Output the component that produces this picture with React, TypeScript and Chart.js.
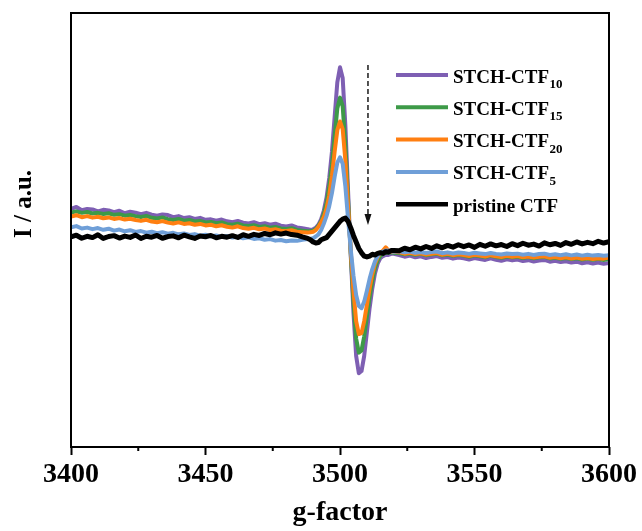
import { useEffect, useRef } from "react";
import { Chart, registerables } from "chart.js";

Chart.register(...registerables);

// Magnetic field sweep (G) shared by every spectrum
const fieldG = [
  3400, 3402, 3404, 3406, 3408, 3410, 3412, 3414, 3416, 3418,
  3420, 3422, 3424, 3426, 3428, 3430, 3432, 3434, 3436, 3438,
  3440, 3442, 3444, 3446, 3448, 3450, 3452, 3454, 3456, 3458,
  3460, 3462, 3464, 3466, 3468, 3470, 3472, 3474, 3476, 3478,
  3480, 3482, 3484, 3486, 3488,
  3489, 3490, 3491, 3492, 3493, 3494, 3495, 3496, 3497, 3498,
  3499, 3500, 3501, 3502, 3503, 3504, 3505, 3506, 3507, 3508,
  3509, 3510, 3511, 3512, 3513, 3514, 3515, 3516, 3517, 3518,
  3519, 3520,
  3522, 3524, 3526, 3528, 3530, 3532, 3534, 3536, 3538, 3540,
  3542, 3544, 3546, 3548, 3550, 3552, 3554, 3556, 3558, 3560,
  3562, 3564, 3566, 3568, 3570, 3572, 3574, 3576, 3578, 3580,
  3582, 3584, 3586, 3588, 3590, 3592, 3594, 3596, 3598, 3600,
];

// EPR intensities (a.u.)
const stchCtf10 = [
  9.8, 10.6, 9.1, 9.7, 9.5, 8.6, 9.3, 9.0, 8.2, 8.9,
  7.7, 8.4, 8.0, 7.3, 7.9, 7.1, 6.6, 7.2, 6.9, 5.9,
  6.4, 5.5, 5.9, 5.1, 5.6, 4.7, 4.9, 4.3, 4.8, 4.0,
  3.6, 4.2, 3.4, 3.0, 3.6, 2.7, 3.1, 2.4, 2.9, 2.0,
  1.6, 2.1, 1.2, 0.8, 0.4,
  0, 0.3, 1, 2.5, 5, 9, 15, 24, 36, 52,
  68, 75, 70, 48, 18, -12, -38, -58, -66, -65,
  -58, -47, -36, -27, -20, -15.5, -13, -12, -11.5, -11.5,
  -11, -11,
  -11.6, -12.3, -11.8, -12.6, -12.1, -12.9, -12.4, -12.0, -12.8, -12.5,
  -13.2, -12.7, -13.0, -13.6, -12.9, -13.4, -13.8, -13.1, -13.7, -14.2,
  -13.5, -14.0, -13.6, -14.3, -13.9, -14.5, -14.1, -13.8, -14.6, -14.2,
  -14.8, -14.4, -15.0, -14.6, -15.3, -14.9, -15.4, -15.0, -15.6, -15.2,
];

const stchCtf15 = [
  8.1, 8.6, 7.9, 8.3, 7.6, 7.9, 7.4, 7.7, 7.0, 7.3,
  6.6, 6.9, 6.4, 6.0, 6.5, 5.6, 5.3, 5.8, 5.0, 4.6,
  5.1, 4.3, 4.6, 3.9, 4.2, 3.5, 3.7, 3.1, 3.5, 2.7,
  2.4, 2.9, 2.1, 1.8, 2.2, 1.4, 1.7, 1.1, 1.4, 0.7,
  0.5, 0.8, 0.0, -0.3, -0.6,
  -0.5, -0.3, 0.5, 2, 4, 7.5, 12.5, 20, 30, 43,
  56, 61, 57, 39, 14, -11, -33, -50, -56.5, -55.5,
  -49, -40, -31, -23.5, -17.5, -14, -12, -11, -10.5, -10.5,
  -10.3, -10.5,
  -10.6, -11.2, -10.8, -11.4, -11.0, -11.6, -11.2, -10.9, -11.7, -11.3,
  -11.9, -11.5, -11.8, -12.3, -11.7, -12.1, -12.5, -11.9, -12.4, -12.8,
  -12.2, -12.6, -12.3, -12.9, -12.5, -13.0, -12.6, -12.4, -13.1, -12.8,
  -13.3, -12.9, -13.4, -13.0, -13.6, -13.2, -13.7, -13.3, -13.8, -13.4,
];

const stchCtf20 = [
  6.2, 6.8, 5.9, 6.4, 5.7, 6.1, 5.4, 5.8, 5.1, 5.5,
  4.8, 5.2, 4.6, 4.2, 4.7, 3.9, 3.6, 4.1, 3.4, 3.0,
  3.5, 2.8, 3.1, 2.4, 2.8, 2.1, 2.4, 1.7, 2.2, 1.5,
  1.1, 1.7, 0.9, 0.6, 1.0, 0.3, 0.7, 0.0, 0.4, -0.3,
  -0.5, -0.1, -0.8, -1.0, -1.2,
  -1, -0.8, 0, 1.5, 3.5, 6, 10, 16, 25, 36,
  46, 50, 46.5, 32, 11, -10, -28, -42, -48, -47.5,
  -42, -34.5, -27, -20.5, -15.5, -12.5, -10.5, -9.5, -8, -9.5,
  -10, -10,
  -10.2, -10.9, -10.5, -11.1, -10.7, -11.3, -10.9, -10.6, -11.4, -11.0,
  -11.6, -11.2, -11.5, -12.0, -11.4, -11.8, -12.2, -11.6, -12.1, -12.5,
  -11.9, -12.3, -12.0, -12.6, -12.2, -12.7, -12.3, -12.1, -12.8, -12.5,
  -13.0, -12.6, -13.1, -12.7, -13.3, -12.9, -13.4, -13.0, -13.2, -12.6,
];

const stchCtf5 = [
  1.2, 1.8, 0.7, 1.1, 0.4, 0.9, 0.1, 0.6, -0.3, 0.2,
  -0.6, -0.1, -0.9, -0.5, -1.2, -0.8, -1.5, -1.0, -1.7, -1.3,
  -2.0, -1.6, -2.3, -1.9, -2.6, -2.2, -2.9, -2.5, -3.2, -2.8,
  -3.5, -3.1, -3.8, -3.4, -4.1, -3.8, -4.5, -4.2, -4.9, -4.6,
  -5.2, -4.8, -5.0, -4.5, -4.2,
  -4, -3.8, -3, -2, 0, 3, 6.5, 11, 17, 24.5,
  31, 33.5, 30.5, 20, 5, -9, -21, -30, -35, -36,
  -33, -28, -22.5, -18, -14.5, -12, -10.5, -10, -9.5, -9.5,
  -9.8, -10,
  -9.8, -10.3, -9.9, -10.5, -10.1, -10.6, -10.2, -9.9, -10.7, -10.3,
  -10.8, -10.4, -10.6, -11.0, -10.5, -10.8, -11.1, -10.6, -11.0, -11.3,
  -10.8, -11.1, -10.9, -11.4, -11.0, -11.5, -11.1, -10.9, -11.5, -11.2,
  -11.6, -11.2, -11.7, -11.3, -11.8, -11.4, -11.8, -11.5, -11.9, -11.6,
];

const pristineCtf = [
  -3.2, -2.4, -3.8, -2.9, -3.5, -2.2, -3.9, -3.0, -2.6, -3.7,
  -2.8, -3.4, -2.3, -3.9, -2.9, -3.3, -2.5, -3.8, -3.0, -2.7,
  -3.6, -2.4, -3.2, -3.9, -2.8, -3.1, -2.5, -3.6, -2.9, -3.3,
  -2.6, -3.4, -2.2, -2.9, -2.0, -2.5, -1.6, -2.2, -1.3, -1.9,
  -1.4, -2.1, -2.4, -3.2, -3.9,
  -4.5, -5.5, -6, -5.8, -4.5, -4, -3.5, -2, -0.5, 1,
  2.5, 4, 5, 5.5, 4, 1, -2.5, -5.5, -8.5, -10.5,
  -12, -12.4, -12, -11.2, -11.5, -10.8, -10.5, -10.8, -10, -10.2,
  -9.5, -9.4,
  -9.6, -8.4, -9.1, -7.9, -8.7, -7.6, -8.5, -7.3, -8.2, -7.1,
  -7.9, -6.8, -7.7, -6.9, -8.0, -6.6, -7.5, -6.4, -7.3, -6.7,
  -7.6, -6.3, -7.2, -6.1, -7.0, -6.5, -7.4, -5.9, -6.8, -6.2,
  -7.1, -5.8, -6.6, -5.5, -6.4, -5.7, -6.3, -5.2, -6.0, -5.4,
];

const seriesValues = [stchCtf10, stchCtf15, stchCtf20, stchCtf5, pristineCtf];
const seriesNames = ["STCH-CTF", "STCH-CTF", "STCH-CTF", "STCH-CTF", "pristine CTF"];
const seriesSubs = ["10", "15", "20", "5", ""];
const seriesColors = ["#7e5fb3", "#3d9a48", "#ff7f11", "#6f9fd8", "#000000"];
const seriesWidths = [4, 4, 4, 4, 5];

// Axis ticks
const xMajorTicks = [3400, 3450, 3500, 3550, 3600];
const xMinorTicks = [3425, 3475, 3525, 3575];

// Dashed guide arrow (field, intensity from -> to)
const arrowField = 3510.4;
const arrowFrom = 76;
const arrowTo = 2.3;

const SERIF = "'Liberation Serif', 'Times New Roman', Times, serif";

const framePlugin = {
  id: "frameAndExtras",
  afterDatasetsDraw(chart: any) {
    const { ctx, chartArea, scales } = chart;
    const xs = scales.x;
    const ys = scales.y;
    ctx.save();

    // dashed arrow
    const ax = xs.getPixelForValue(arrowField);
    const ay0 = ys.getPixelForValue(arrowFrom);
    const ay1 = ys.getPixelForValue(arrowTo);
    ctx.strokeStyle = "#1a1a1a";
    ctx.lineWidth = 1.5;
    ctx.setLineDash([5, 3]);
    ctx.beginPath();
    ctx.moveTo(ax, ay0);
    ctx.lineTo(ax, ay1 - 9);
    ctx.stroke();
    ctx.setLineDash([]);
    ctx.fillStyle = "#111";
    ctx.beginPath();
    ctx.moveTo(ax, ay1);
    ctx.lineTo(ax - 3.5, ay1 - 11);
    ctx.lineTo(ax + 3.5, ay1 - 11);
    ctx.closePath();
    ctx.fill();

    // legend
    const lx0 = 396;
    const lx1 = 448;
    const ly0 = 75;
    const lstep = 32.3;
    seriesNames.forEach((name, i) => {
      const y = ly0 + i * lstep;
      ctx.strokeStyle = seriesColors[i];
      ctx.lineWidth = i === 4 ? 4.5 : 4;
      ctx.lineCap = "butt";
      ctx.beginPath();
      ctx.moveTo(lx0, y);
      ctx.lineTo(lx1, y);
      ctx.stroke();
      ctx.fillStyle = "#000";
      ctx.textAlign = "left";
      ctx.textBaseline = "alphabetic";
      ctx.font = `bold 19px ${SERIF}`;
      ctx.fillText(name, 453, y + 7.5);
      const w = ctx.measureText(name).width;
      if (seriesSubs[i]) {
        ctx.font = `bold 13px ${SERIF}`;
        ctx.fillText(seriesSubs[i], 453 + w + 0.5, y + 13);
      }
    });

    // y-axis title
    ctx.save();
    ctx.translate(25, 204);
    ctx.rotate(-Math.PI / 2);
    ctx.font = `bold 25px ${SERIF}`;
    ctx.fillStyle = "#000";
    ctx.textAlign = "center";
    ctx.textBaseline = "middle";
    ctx.fillText("I / a.u.", 0, 0);
    ctx.restore();

    // minor ticks
    ctx.strokeStyle = "#000";
    ctx.lineWidth = 2;
    xMinorTicks.forEach((v) => {
      const px = xs.getPixelForValue(v);
      ctx.beginPath();
      ctx.moveTo(px, chartArea.bottom);
      ctx.lineTo(px, chartArea.bottom + 4);
      ctx.stroke();
    });

    // frame
    ctx.strokeStyle = "#000";
    ctx.lineWidth = 2;
    ctx.strokeRect(
      chartArea.left,
      chartArea.top,
      chartArea.right - chartArea.left,
      chartArea.bottom - chartArea.top
    );
    ctx.restore();
  },
};

export default function App() {
  const canvasRef = useRef<HTMLCanvasElement>(null);

  useEffect(() => {
    if (!canvasRef.current) return;
    const datasets = seriesValues.map((ys, i) => ({
      label: seriesNames[i] + seriesSubs[i],
      data: fieldG.map((x, j) => ({ x, y: ys[j] })),
      borderColor: seriesColors[i],
      backgroundColor: seriesColors[i],
      borderWidth: seriesWidths[i],
      borderJoinStyle: "round",
      borderCapStyle: "round",
      pointRadius: 0,
      tension: 0,
      fill: false,
      order: seriesValues.length - 1 - i,
    }));

    const chart = new Chart(canvasRef.current, {
      type: "line",
      data: { datasets },
      options: {
        animation: false,
        responsive: false,
        events: [],
        layout: { padding: { left: 8, top: 13, right: 33, bottom: 0 } },
        plugins: {
          legend: { display: false },
          tooltip: { enabled: false },
        },
        scales: {
          x: {
            type: "linear",
            min: 3400,
            max: 3600,
            afterBuildTicks: (scale: any) => {
              scale.ticks = xMajorTicks.map((v) => ({ value: v }));
            },
            afterFit: (scale: any) => {
              scale.height = 84;
            },
            ticks: {
              autoSkip: false,
              maxRotation: 0,
              padding: 3,
              color: "#000",
              font: { family: SERIF, size: 28, weight: "bold" },
              callback: (v: any) => String(v),
            },
            grid: {
              display: true,
              drawOnChartArea: false,
              drawTicks: true,
              tickLength: 8,
              tickWidth: 2,
              tickColor: "#000",
            },
            border: { display: false },
            title: {
              display: true,
              text: "g-factor",
              color: "#000",
              font: { family: SERIF, size: 28, weight: "bold" },
              padding: { top: 0, bottom: 1 },
            },
          },
          y: {
            type: "linear",
            min: -100,
            max: 100,
            afterFit: (scale: any) => {
              scale.width = 63;
            },
            ticks: { display: false },
            grid: { display: false },
            border: { display: false },
          },
        },
      },
      plugins: [framePlugin],
    } as any);

    return () => chart.destroy();
  }, []);

  return (
    <div
      style={{
        position: "fixed",
        left: 0,
        top: 0,
        width: 642,
        height: 531,
        background: "#fff",
      }}
    >
      <canvas
        ref={canvasRef}
        width={642}
        height={531}
        style={{ display: "block", width: 642, height: 531 }}
      />
    </div>
  );
}
